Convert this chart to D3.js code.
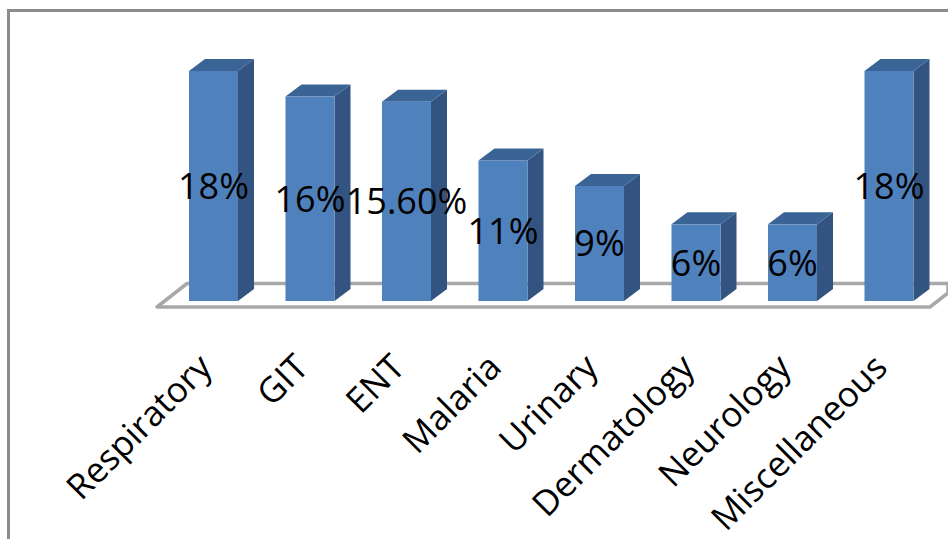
<!DOCTYPE html>
<html>
<head>
<meta charset="utf-8">
<script src="https://cdn.jsdelivr.net/npm/d3@7/dist/d3.min.js"></script>
<style>
  html, body { margin: 0; padding: 0; background: #fff; }
  svg { display: block; }
  text { font-family: "Open Sans", "Noto Sans", sans-serif; fill: #000; }
</style>
</head>
<body>
<svg id="chart" width="948" height="539"></svg>
<script>
// Share of cases per department
const categories = ["Respiratory", "GIT", "ENT", "Malaria", "Urinary", "Dermatology", "Neurology", "Miscellaneous"];
const shares = [18, 16, 15.6, 11, 9, 6, 6, 18];
const shareLabels = ["18%", "16%", "15.60%", "11%", "9%", "6%", "6%", "18%"];

const svg = d3.select("#chart");
const baseY = 301;
const depthX = 16, depthY = -12;

const x = d3.scaleBand().domain(categories).range([165.25, 937.25]).paddingInner(0.492).paddingOuter(0.246);
const y = d3.scaleLinear().domain([0, 18]).range([baseY, 71]);

// Outer frame: only the top and left sides are visible
svg.append("path")
  .attr("d", "M8.5,539V10.5H948")
  .attr("fill", "none").attr("stroke", "#8c8c8c").attr("stroke-width", 3);

// Floor of the 3D plot area
const floor = "M157,307L187,283.5H948V293L930,307Z";
svg.append("path").attr("d", floor).attr("fill", "#fff")
  .attr("stroke", "#a8a8a8").attr("stroke-width", 3.5).attr("stroke-linejoin", "round");

// Each bar is a front face plus a top and a right side in depth
const bars = svg.append("g").selectAll("g")
  .data(categories.map((c, i) => ({ c, v: shares[i], label: shareLabels[i] })))
  .join("g");

bars.append("path").attr("fill", "#335480")
  .attr("d", d => {
    const r = x(d.c) + x.bandwidth(), t = y(d.v);
    return `M${r},${t}l${depthX},${depthY}V${baseY + depthY}L${r},${baseY}Z`;
  });
bars.append("path").attr("fill", "#3b6496")
  .attr("d", d => {
    const l = x(d.c), t = y(d.v);
    return `M${l},${t}l${depthX},${depthY}h${x.bandwidth()}l${-depthX},${-depthY}Z`;
  });
bars.append("rect").attr("fill", "#4f81bd")
  .attr("x", d => x(d.c)).attr("y", d => y(d.v))
  .attr("width", x.bandwidth()).attr("height", d => baseY - y(d.v));

// Value labels centred on the front faces
bars.append("text")
  .attr("x", d => x(d.c) + x.bandwidth() / 2)
  .attr("y", d => (y(d.v) + baseY) / 2)
  .attr("dy", "0.36em")
  .attr("text-anchor", "middle")
  .attr("font-size", 36)
  .text(d => d.label);

// Category axis with slanted labels
const axis = svg.append("g").attr("transform", "translate(-17,352)")
  .call(d3.axisBottom(x).tickSize(0).tickPadding(0));
axis.select(".domain").remove();
axis.selectAll("text")
  .attr("font-size", 35)
  .attr("text-anchor", "end")
  .attr("dy", "0.7em")
  .attr("transform", "rotate(-45)");
</script>
</body>
</html>
